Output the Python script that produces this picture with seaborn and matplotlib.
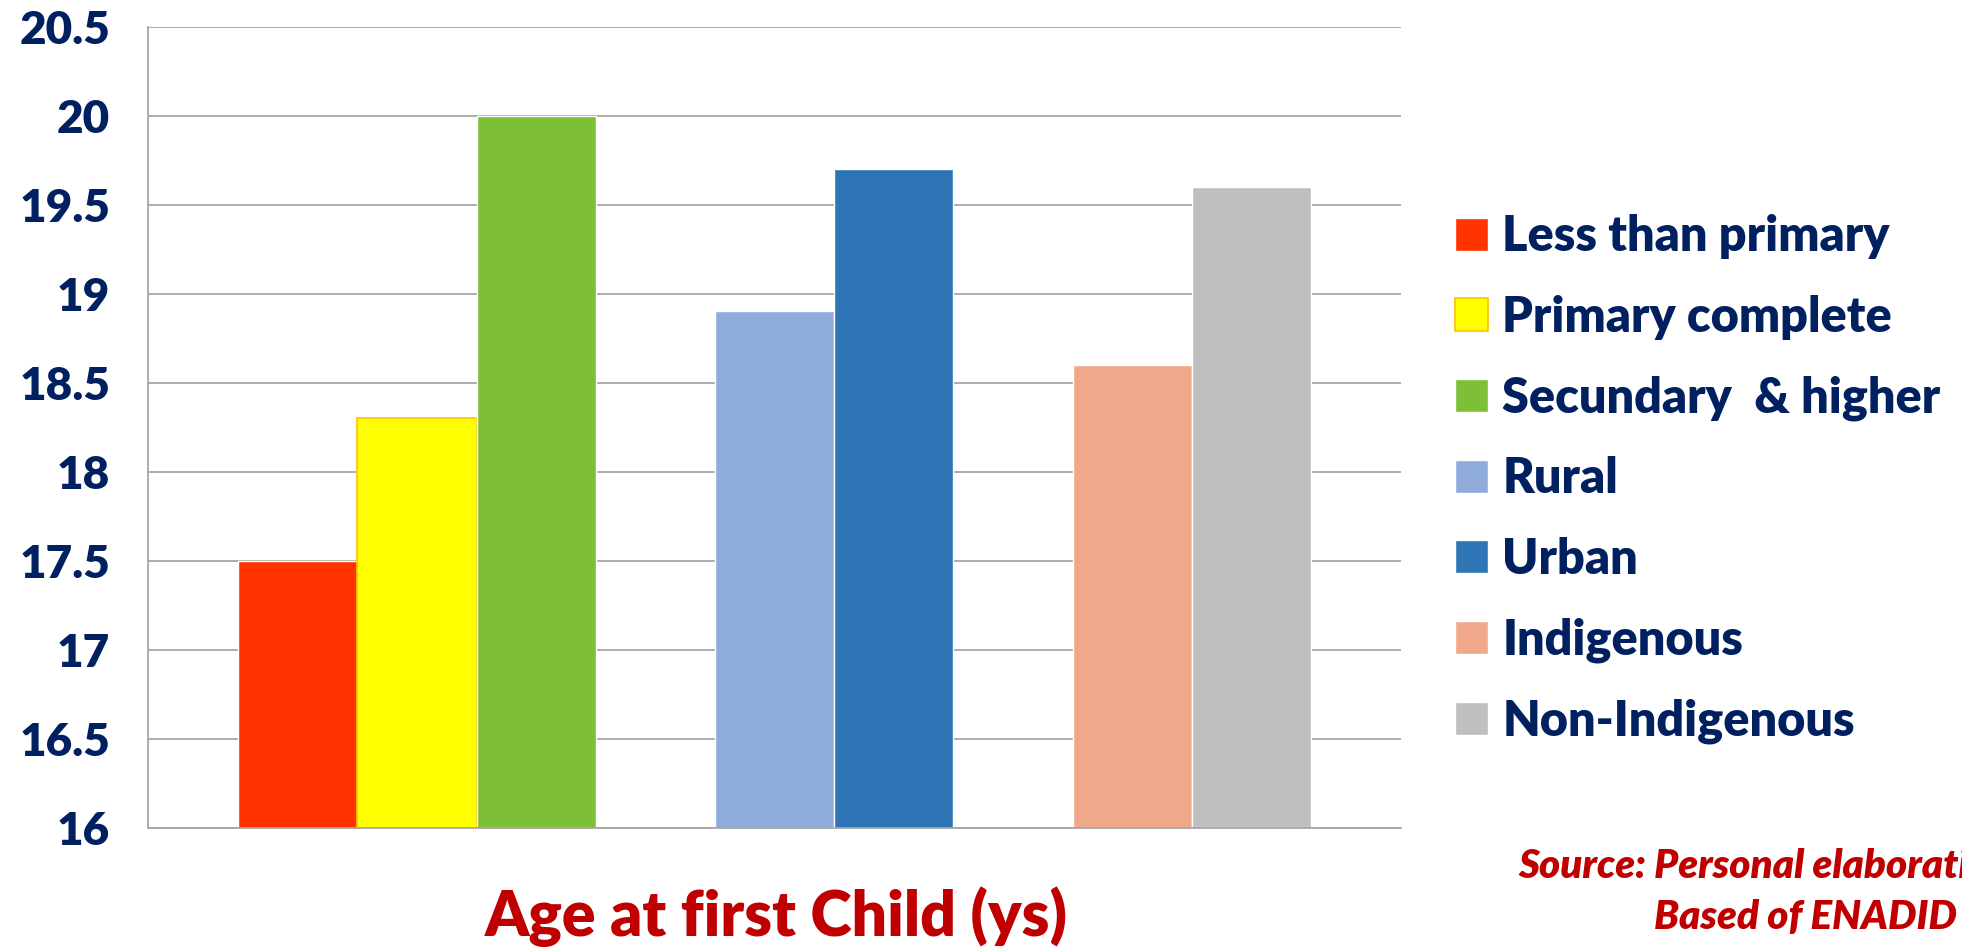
import pandas as pd
import matplotlib.pyplot as plt
import seaborn as sns

# DADOS DO GRAFICO
grupos = ['Less than primary', 'Primary complete', 'Secundary  & higher',
          'Rural', 'Urban', 'Indigenous', 'Non-Indigenous']
idade = [17.5, 18.3, 20.0, 18.9, 19.7, 18.6, 19.6]
cores = ['#FF3300', '#FFFF00', '#7DBF36', '#8FABDC', '#2E75B6', '#F0A88B', '#BFBFBF']
ordem = ['Less than primary', 'Primary complete', 'Secundary  & higher', ' ',
         'Rural', 'Urban', '  ', 'Indigenous', 'Non-Indigenous']
yticks = [16, 16.5, 17, 17.5, 18, 18.5, 19, 19.5, 20, 20.5]

df = pd.DataFrame({'grupo': grupos, 'idade': idade})

sns.set_style('white')
plt.rcParams['font.family'] = ['Lato', 'DejaVu Sans']
peso = 'heavy'

azul = '#002060'
cinza = '#A6A6A6'

fig = plt.figure(figsize=(19.62, 9.49), dpi=100)
ax = fig.add_axes([0.0753, 0.1278, 0.639, 0.8441])

sns.barplot(data=df, x='grupo', y='idade', hue='grupo', order=ordem,
            hue_order=grupos, palette=cores, width=1.0, dodge=False,
            saturation=1, legend=True, ax=ax)

# BORDA LARANJA DA BARRA AMARELA
for p in ax.patches:
    if p.get_facecolor()[:3] == (1.0, 1.0, 0.0):
        p.set_edgecolor('#FFC000')
        p.set_linewidth(1.2)

ax.set_ylim(16, 20.5)
ax.set_xlim(-0.5 - 0.758, 8.5 + 0.758)
ax.set_yticks(yticks)
ax.set_yticklabels([f'{v:g}' for v in yticks])
ax.set_xticks([-0.5 - 0.758, 8.5 + 0.758])
ax.set_xticklabels(['', ''])
ax.tick_params(axis='x', length=16, width=1.2, color=cinza, direction='out')
ax.tick_params(axis='y', length=11, width=1.2, color=cinza, direction='out',
               labelsize=33, labelcolor=azul, pad=16)
for t in ax.get_yticklabels():
    t.set_fontweight(peso)

ax.grid(axis='y', color=cinza, linewidth=1.3)
ax.set_axisbelow(True)
for s in ['top', 'right']:
    ax.spines[s].set_visible(False)
for s in ['left', 'bottom']:
    ax.spines[s].set_color(cinza)
    ax.spines[s].set_linewidth(1.3)
ax.set_xlabel('')
ax.set_ylabel('')

# LEGENDA
handles, labels = ax.get_legend_handles_labels()
leg = ax.legend(handles, labels, loc='upper left', bbox_to_anchor=(1.027, 0.79),
                frameon=False, fontsize=35, handlelength=0.68, handleheight=0.66,
                handletextpad=0.3, labelspacing=0.73, borderaxespad=0)
for t in leg.get_texts():
    t.set_color(azul)
    t.set_fontweight(peso)

# TITULO E FONTE
fig.text(0.3955, 0.034, 'Age at first Child (ys)', ha='center', va='center',
         fontsize=45, fontweight=peso, color='#C00000')
fig.text(1518 / 1962, 1 - 867 / 949, 'Source: Personal elaboration', ha='left',
         va='center', fontsize=29, fontweight=peso, style='italic', color='#C00000')
fig.text(1654 / 1962, 1 - 917 / 949, 'Based of ENADID', ha='left',
         va='center', fontsize=29, fontweight=peso, style='italic', color='#C00000')

plt.savefig('out.png', dpi=100)
